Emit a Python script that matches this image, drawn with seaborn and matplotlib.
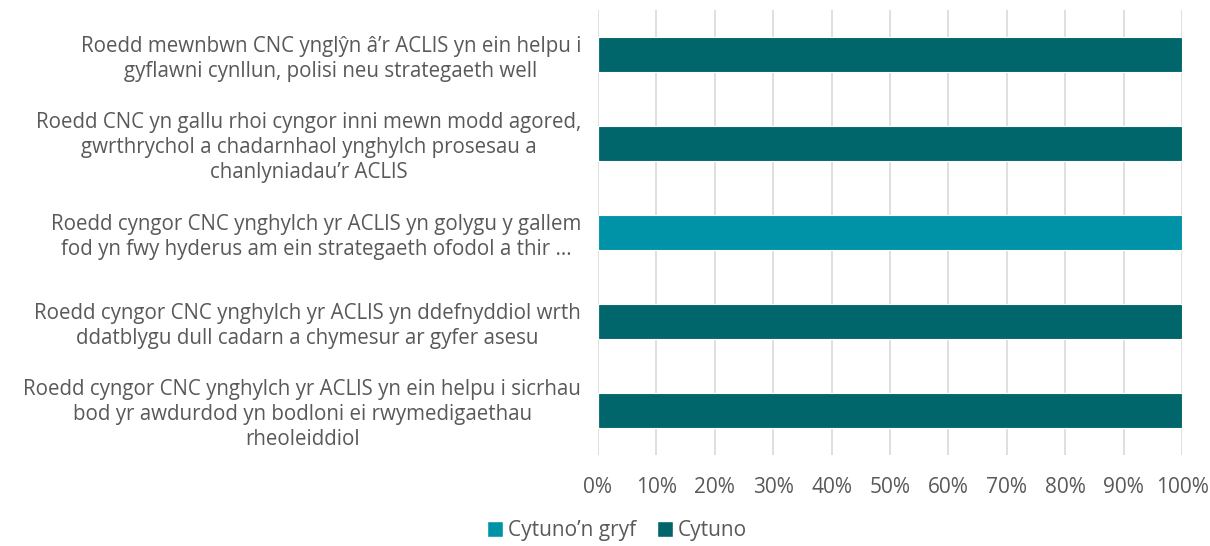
import pandas as pd
import numpy as np
import matplotlib.pyplot as plt
import seaborn as sns
from matplotlib.patches import Patch

# Categories, top to bottom as they appear in the chart
categories = [
    "Roedd mewnbwn CNC ynglŷn â’r ACLlS yn ein helpu i\ngyflawni cynllun, polisi neu strategaeth well",
    "Roedd CNC yn gallu rhoi cyngor inni mewn modd agored,\ngwrthrychol a chadarnhaol ynghylch prosesau a\nchanlyniadau’r ACLlS",
    "Roedd cyngor CNC ynghylch yr ACLlS yn golygu y gallem\nfod yn fwy hyderus am ein strategaeth ofodol a thir ...",
    "Roedd cyngor CNC ynghylch yr ACLlS yn ddefnyddiol wrth\nddatblygu dull cadarn a chymesur ar gyfer asesu",
    "Roedd cyngor CNC ynghylch yr ACLlS yn ein helpu i sicrhau\nbod yr awdurdod yn bodloni ei rwymedigaethau\nrheoleiddiol",
]
series = ["Cytuno’n gryf", "Cytuno"]
cytuno_n_gryf = [0, 0, 100, 0, 0]
cytuno = [100, 100, 0, 100, 100]
colors = {"Cytuno’n gryf": "#0092A6", "Cytuno": "#00666B"}

df = pd.DataFrame({"category": categories, "gryf": cytuno_n_gryf, "cytuno": cytuno})
df["total"] = df["gryf"] + df["cytuno"]

sns.set_style("white")
plt.rcParams['font.family'] = ['Open Sans', 'DejaVu Sans']
text_color = "#595959"

fig, ax = plt.subplots(figsize=(12.1, 5.46), dpi=100)
fig.subplots_adjust(left=0.494, right=0.977, top=0.982, bottom=0.167)

# stacked: draw cumulative total first, then the first segment on top
sns.barplot(data=df, x="total", y="category", order=categories, color=colors["Cytuno"],
            width=0.4, saturation=1, ax=ax, edgecolor="white", linewidth=0.8)
sns.barplot(data=df, x="gryf", y="category", order=categories, color=colors["Cytuno’n gryf"],
            width=0.4, saturation=1, ax=ax, edgecolor="white", linewidth=0.8)

ax.set_xlim(0, 100)
ax.set_ylim(len(categories) - 0.5, -0.5)
ax.set_xticks(np.arange(0, 101, 10))
ax.set_xticklabels([f"{v}%" for v in range(0, 101, 10)], fontsize=15, color=text_color)
ax.set_yticks(range(len(categories)))
ax.set_yticklabels(categories, fontsize=14.8, color=text_color, multialignment="center",
                   linespacing=1.25)
ax.tick_params(axis="x", length=0, pad=16)
ax.tick_params(axis="y", length=0, pad=12)
ax.set_xlabel("")
ax.set_ylabel("")
ax.xaxis.grid(True, color="#D9D9D9", linewidth=1.2)
ax.set_axisbelow(True)
for s in ax.spines.values():
    s.set_visible(False)

handles = [Patch(facecolor=colors[s], label=s) for s in series]
fig.legend(handles=handles, loc="center", bbox_to_anchor=(0.51, 0.028), ncol=2, frameon=False,
           fontsize=15, labelcolor=text_color, handlelength=0.75, handleheight=0.75,
           handletextpad=0.25, columnspacing=1.0)

fig.savefig("out.png", dpi=100)
